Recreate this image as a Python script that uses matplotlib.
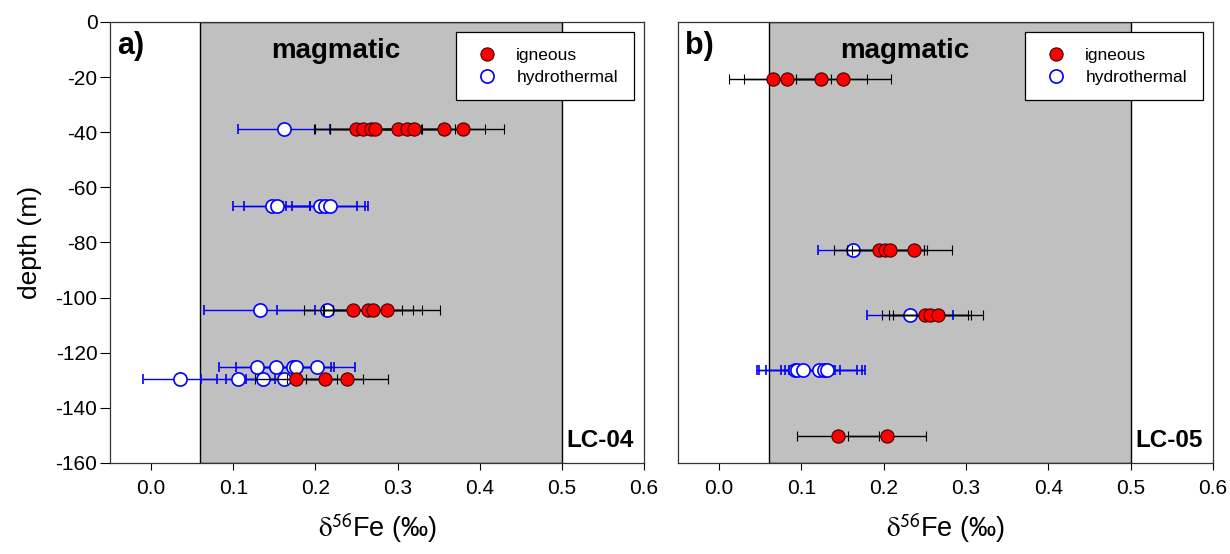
import matplotlib
matplotlib.use("Agg")
import matplotlib.pyplot as plt
from matplotlib.lines import Line2D

plt.rcParams['font.family'] = ['Liberation Sans', 'DejaVu Sans']
plt.rcParams['axes.unicode_minus'] = False
plt.rcParams['mathtext.fontset'] = 'stix'

# LC-04 (panel a)
a_ign_x = [0.250, 0.258, 0.268, 0.273, 0.300, 0.312, 0.320, 0.357, 0.380,
           0.246, 0.264, 0.270, 0.287,
           0.176, 0.212, 0.239]
a_ign_y = [-38.8, -38.8, -38.8, -38.8, -38.8, -38.8, -38.8, -38.8, -38.8,
           -104.5, -104.5, -104.5, -104.5,
           -129.5, -129.5, -129.5]
a_ign_err = [0.050, 0.060, 0.050, 0.055, 0.050, 0.045, 0.050, 0.050, 0.050,
             0.060, 0.055, 0.060, 0.065,
             0.050, 0.046, 0.050]
a_hyd_x = [0.162,
           0.147, 0.153, 0.206, 0.212, 0.218,
           0.132, 0.214,
           0.129, 0.152, 0.173, 0.177, 0.202,
           0.035, 0.106, 0.136, 0.162]
a_hyd_y = [-38.8,
           -66.8, -66.8, -66.8, -66.8, -66.8,
           -104.5, -104.5,
           -125.3, -125.3, -125.3, -125.3, -125.3,
           -129.5, -129.5, -129.5, -129.5]
a_hyd_err = [0.056,
             0.047, 0.040, 0.045, 0.048, 0.046,
             0.068, 0.061,
             0.046, 0.048, 0.046, 0.046, 0.046,
             0.045, 0.045, 0.045, 0.046]

# LC-05 (panel b)
b_ign_x = [0.066, 0.083, 0.124, 0.151,
           0.194, 0.202, 0.207, 0.237,
           0.250, 0.256, 0.266,
           0.144, 0.204]
b_ign_y = [-20.8, -20.8, -20.8, -20.8,
           -82.6, -82.6, -82.6, -82.6,
           -106.3, -106.3, -106.3,
           -150.2, -150.2]
b_ign_err = [0.054, 0.053, 0.056, 0.058,
             0.055, 0.047, 0.046, 0.046,
             0.052, 0.050, 0.055,
             0.050, 0.047]
b_hyd_x = [0.163, 0.232, 0.092, 0.095, 0.102, 0.121, 0.127, 0.131]
b_hyd_y = [-82.6, -106.3, -126.3, -126.3, -126.3, -126.3, -126.3, -126.3]
b_hyd_err = [0.043, 0.052, 0.046, 0.046, 0.045, 0.046, 0.047, 0.046]

magmatic_range = (0.06, 0.5)
xticks = [0.0, 0.1, 0.2, 0.3, 0.4, 0.5, 0.6]
yticks = [0, -20, -40, -60, -80, -100, -120, -140, -160]

panels = [
    ('a)', 'LC-04', a_ign_x, a_ign_y, a_ign_err, a_hyd_x, a_hyd_y, a_hyd_err),
    ('b)', 'LC-05', b_ign_x, b_ign_y, b_ign_err, b_hyd_x, b_hyd_y, b_hyd_err),
]

fig = plt.figure(figsize=(12.3, 5.54), dpi=100)
rects = [[0.0894, 0.1643, 0.4342, 0.7960], [0.5512, 0.1643, 0.4350, 0.7960]]

for i, (tag, name, ix, iy, ie, hx, hy, he) in enumerate(panels):
    ax = fig.add_axes(rects[i])
    ax.axvspan(*magmatic_range, facecolor='#c0c0c0', edgecolor='black', lw=1, zorder=0)
    ax.errorbar(hx, hy, xerr=he, fmt='o', color='#0000ff', mfc='white', mec='#0000ff',
                ms=9.5, mew=1.2, ecolor='#0000ff', elinewidth=1, capsize=3.6, capthick=1, zorder=3)
    ax.errorbar(ix, iy, xerr=ie, fmt='o', color='black', mfc='#ff0000', mec='#400000',
                ms=9.5, mew=0.8, ecolor='black', elinewidth=1, capsize=3.6, capthick=1, zorder=4)
    ax.set_xlim(-0.05, 0.6)
    ax.set_ylim(-160, 0)
    ax.set_xticks(xticks)
    ax.set_xticklabels(['%.1f' % t for t in xticks])
    ax.tick_params(axis='x', direction='out', length=5, pad=6.5, labelsize=15)
    if i == 0:
        ax.set_yticks(yticks)
        ax.tick_params(axis='y', direction='out', length=7, pad=2, labelsize=15)
        ax.set_ylabel('depth (m)', fontsize=19, labelpad=10)
    else:
        ax.set_yticks([])
    ax.set_xlabel(r'$\mathrm{\delta}^{\mathsf{56}}$Fe (‰)', fontsize=19.5, labelpad=10)
    for s in ax.spines.values():
        s.set_linewidth(0.9)
        s.set_color('#333333')
    ax.text(-0.041, -8.6, tag, fontsize=22, fontweight='bold', ha='left', va='center')
    ax.text(0.225, -10.5, 'magmatic', fontsize=20, fontweight='bold', ha='center', va='center')
    ax.text(0.587, -152.0, name, fontsize=17.5, fontweight='bold', ha='right', va='center')
    handles = [
        Line2D([], [], ls='none', marker='o', mfc='#ff0000', mec='#400000', ms=9.5, mew=0.8),
        Line2D([], [], ls='none', marker='o', mfc='white', mec='#0000ff', ms=9.5, mew=1.2),
    ]
    leg = ax.legend(handles, ['igneous', 'hydrothermal'], loc='upper right', fontsize=12.5,
                    frameon=True, fancybox=False, edgecolor='black', framealpha=1,
                    borderaxespad=0.6, handlelength=1.8, handletextpad=0.8,
                    labelspacing=0.37, borderpad=0.9)
    leg.get_frame().set_linewidth(0.9)

fig.savefig('out.png', dpi=100)
